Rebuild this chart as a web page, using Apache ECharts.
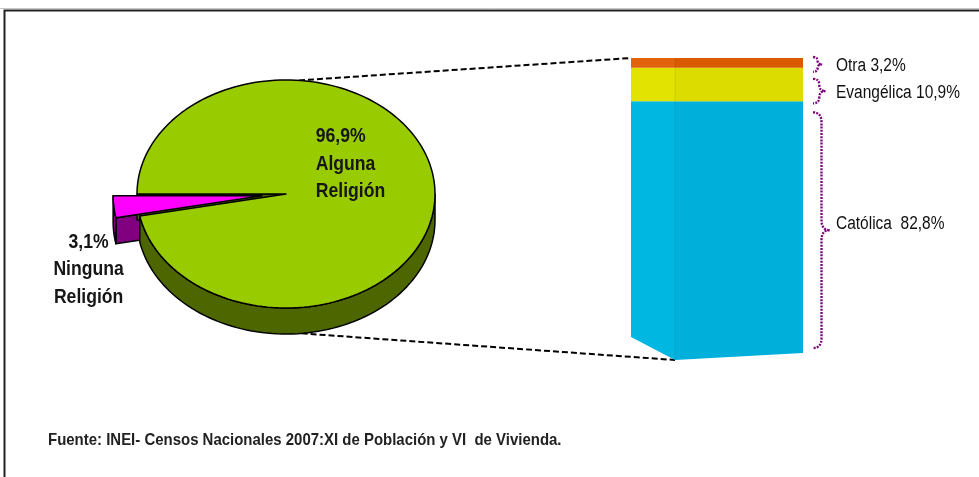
<!DOCTYPE html>
<html>
<head>
<meta charset="utf-8">
<script src="https://cdn.jsdelivr.net/npm/echarts@6/dist/echarts.min.js"></script>
<style>
  html, body { margin: 0; padding: 0; background: #fff; }
  #chart { width: 979px; height: 477px; }
</style>
</head>
<body>
<div id="chart"></div>
<script>
// Población según religión – Censos Nacionales 2007
const pieNames = ['Alguna Religión', 'Ninguna Religión'];
const pieValues = [96.9, 3.1];
const barNames = ['Católica', 'Evangélica', 'Otra'];
const barValues = [82.8, 10.9, 3.2];
const sourceNote = 'Fuente: INEI- Censos Nacionales 2007:XI de Población y VI  de Vivienda.';

// Liberation Sans squeezed horizontally gives a narrow grotesque face
const FONT = '"Liberation Sans", Arial, sans-serif';
const fmt = v => v.toFixed(1).replace('.', ',') + '%';

// ---- 3D pie layout ----
const PIE = { cx: 286, cy: 194, rx: 149, ry: 114, depth: 26, start: 180 };
const pieColors = [
  { top: '#99CC00', side: '#4D6600' },
  { top: '#FF00FF', side: '#800080' }
];
const pieExplode = [0, 24];
const pieLabelPos = [
  { f: 0.43, dx: -34, dy: -25, align: 'left' },
  { f: 1.17, dx: 0, dy: 61, align: 'center' }
];
const pieTotal = pieValues.reduce((a, b) => a + b, 0);
const OUTLINE = { stroke: '#000', lineWidth: 1.5, lineJoin: 'round' };

function rim(cx, cy, deg, dy) {
  const a = deg * Math.PI / 180;
  return [cx + PIE.rx * Math.cos(a), cy + PIE.ry * Math.sin(a) + (dy || 0)];
}
function arc(cx, cy, a0, a1, dy) {
  const n = Math.max(2, Math.ceil(Math.abs(a1 - a0) / 2));
  const pts = [];
  for (let k = 0; k <= n; k++) pts.push(rim(cx, cy, a0 + (a1 - a0) * k / n, dy));
  return pts;
}

function renderPie(params, api) {
  const i = params.dataIndex;
  let acc = 0;
  for (let k = 0; k < i; k++) acc += pieValues[k];
  const a0 = PIE.start + acc / pieTotal * 360;
  const a1 = a0 + pieValues[i] / pieTotal * 360;
  const mid = (a0 + a1) / 2 * Math.PI / 180;
  const ex = pieExplode[i];
  const cx = PIE.cx + ex * Math.cos(mid);
  const cy = PIE.cy + ex * Math.sin(mid) * PIE.ry / PIE.rx;
  const D = PIE.depth;
  const col = pieColors[i];
  const wallZ = ex > 0 ? 1 : 2;
  const topZ = ex > 0 ? 4 : 3;
  const children = [];

  // radial cut walls facing the viewer
  const startRad = a0 * Math.PI / 180, endRad = a1 * Math.PI / 180;
  if (Math.cos(startRad) < 0) {
    const p = rim(cx, cy, a0);
    children.push({ type: 'polygon', z2: wallZ,
      shape: { points: [[cx, cy], p, [p[0], p[1] + D], [cx, cy + D]] },
      style: Object.assign({ fill: col.side }, OUTLINE) });
  }
  if (Math.cos(endRad) > 0) {
    const p = rim(cx, cy, a1);
    children.push({ type: 'polygon', z2: wallZ,
      shape: { points: [[cx, cy], p, [p[0], p[1] + D], [cx, cy + D]] },
      style: Object.assign({ fill: col.side }, OUTLINE) });
  }
  // outer wall on the front half of the ellipse
  for (let k = Math.floor(a0 / 360) - 1; k <= Math.ceil(a1 / 360); k++) {
    const lo = Math.max(a0, 360 * k), hi = Math.min(a1, 360 * k + 180);
    if (hi - lo <= 0.01) continue;
    const pts = arc(cx, cy, lo, hi, 0).concat(arc(cx, cy, hi, lo, D));
    children.push({ type: 'polygon', z2: wallZ, shape: { points: pts },
      style: Object.assign({ fill: col.side }, OUTLINE) });
  }
  // top face
  children.push({ type: 'polygon', z2: topZ,
    shape: { points: [[cx, cy]].concat(arc(cx, cy, a0, a1, 0)) },
    style: Object.assign({ fill: col.top }, OUTLINE) });
  // label
  const lp = pieLabelPos[i];
  children.push({ type: 'text', z2: 10, scaleX: 0.88,
    x: cx + lp.f * PIE.rx * Math.cos(mid) + lp.dx,
    y: cy + lp.f * PIE.ry * Math.sin(mid) + lp.dy,
    style: {
      text: fmt(pieValues[i]) + '\n' + pieNames[i].replace(' ', '\n'),
      fill: '#161616', font: 'bold 20px ' + FONT, lineHeight: 27.5,
      align: lp.align, verticalAlign: 'middle'
    } });
  return { type: 'group', children };
}

// ---- 3D stacked column ----
const barColors = [
  { front: '#00B0DA', side: '#00B7E2' },
  { front: '#DCDC00', side: '#E3E300' },
  { front: '#D95A00', side: '#E1640C' }
];
const SIDE_W = 44;
const FLOOR = { frontL: 4, frontR: -3, sideL: -19 };
const bracePad = [ { top: 11, bot: 8, dy: -6 }, { top: 11, bot: -2, dy: 2 }, { top: -1, bot: -4, dy: 1.5 } ];
const labelSep = ['  ', ' ', ' '];
const barTotal = barValues.reduce((a, b) => a + b, 0);
const barData = [];
(function () {
  let s = 0;
  barValues.forEach((v, i) => { barData.push([0, s, s + v, i]); s += v; });
})();

function renderBar(params, api) {
  const i = api.value(3);
  const pTop = api.coord([0, api.value(2)]);
  const pBot = api.coord([0, api.value(1)]);
  const bw = api.size([1, 0])[0];
  const xL = pTop[0] - bw / 2, xR = pTop[0] + bw / 2, xF = xL + SIDE_W;
  const yT = pTop[1], yB = pBot[1];
  const onFloor = api.value(1) === 0;
  const fl = onFloor ? FLOOR : { frontL: 0, frontR: 0, sideL: 0 };
  const c = barColors[i];
  const children = [
    { type: 'polygon', shape: { points: [[xL, yT], [xF, yT], [xF, yB + fl.frontL], [xL, yB + fl.sideL]] },
      style: { fill: c.side } },
    { type: 'polygon', shape: { points: [[xF, yT], [xR, yT], [xR, yB + fl.frontR], [xF, yB + fl.frontL]] },
      style: { fill: c.front } },
    { type: 'line', shape: { x1: xF, y1: yT, x2: xF, y2: yB + fl.frontL },
      style: { stroke: 'rgba(0,0,0,0.08)', lineWidth: 1 } }
  ];
  // curly brace with its label
  const pad = bracePad[i];
  const y1 = yT + pad.top, y2 = yB - pad.bot, ym = (y1 + y2) / 2;
  const h = y2 - y1;
  const w = Math.min(17, 4 + h * 0.35);
  const xb = xR + 10, xv = xb + w / 2, xt = xb + w;
  const r = Math.min(10, h / 4);
  const d = `M${xb} ${y1} Q${xv} ${y1} ${xv} ${y1 + r} L${xv} ${ym - r} Q${xv} ${ym} ${xt} ${ym}` +
            ` Q${xv} ${ym} ${xv} ${ym + r} L${xv} ${y2 - r} Q${xv} ${y2} ${xb} ${y2}`;
  children.push({ type: 'path', shape: { pathData: d },
    style: { fill: null, stroke: '#7A0A7A', lineWidth: 2.4, lineDash: [2, 1.2] } });
  children.push({ type: 'text', x: xb + 23, y: ym + pad.dy, scaleX: 0.86,
    style: { text: barNames[i] + labelSep[i] + fmt(barValues[i]), fill: '#111',
      font: '18px ' + FONT, verticalAlign: 'middle', align: 'left' } });
  return { type: 'group', children };
}

const chart = echarts.init(document.getElementById('chart'), null, { renderer: 'canvas' });
chart.setOption({
  backgroundColor: '#fff',
  animation: false,
  grid: { left: 631, width: 172, top: 58, bottom: 121 },
  xAxis: { type: 'category', data: ['Alguna Religión'], show: false },
  yAxis: { type: 'value', min: 0, max: barTotal, show: false },
  series: [
    { type: 'custom', name: 'religion', coordinateSystem: 'none', data: pieValues, renderItem: renderPie },
    { type: 'custom', name: 'alguna', data: barData, encode: { x: 0, y: [1, 2] }, renderItem: renderBar }
  ]
});

// frame, connector lines and source note
const barTopLeft = chart.convertToPixel({ gridIndex: 0 }, [0, barTotal]);
const barFloor = chart.convertToPixel({ gridIndex: 0 }, [0, 0]);
const bandW = 172;
const pieTopPt = rim(PIE.cx, PIE.cy, 275);
const pieBotPt = rim(PIE.cx, PIE.cy, 84, PIE.depth);
const dash = { stroke: '#000', lineWidth: 2, lineDash: [6, 3] };
chart.setOption({
  graphic: [
    { type: 'line', shape: { x1: 0, y1: 8.5, x2: 979, y2: 8.5 }, style: { stroke: '#c8c8c8', lineWidth: 1 } },
    { type: 'polyline', shape: { points: [[4.5, 477], [4.5, 10.5], [979, 10.5]] }, style: { stroke: '#222', lineWidth: 2, fill: null } },
    { type: 'line', shape: { x1: pieTopPt[0], y1: pieTopPt[1], x2: barTopLeft[0] - bandW / 2, y2: barTopLeft[1] }, style: dash },
    { type: 'line', shape: { x1: pieBotPt[0], y1: pieBotPt[1], x2: barFloor[0] - bandW / 2 + SIDE_W, y2: barFloor[1] + FLOOR.frontL }, style: dash },
    { type: 'text', x: 48, y: 440, scaleX: 0.88, style: { text: sourceNote, font: 'bold 17px ' + FONT, fill: '#222', verticalAlign: 'middle' } }
  ]
});
</script>
</body>
</html>
